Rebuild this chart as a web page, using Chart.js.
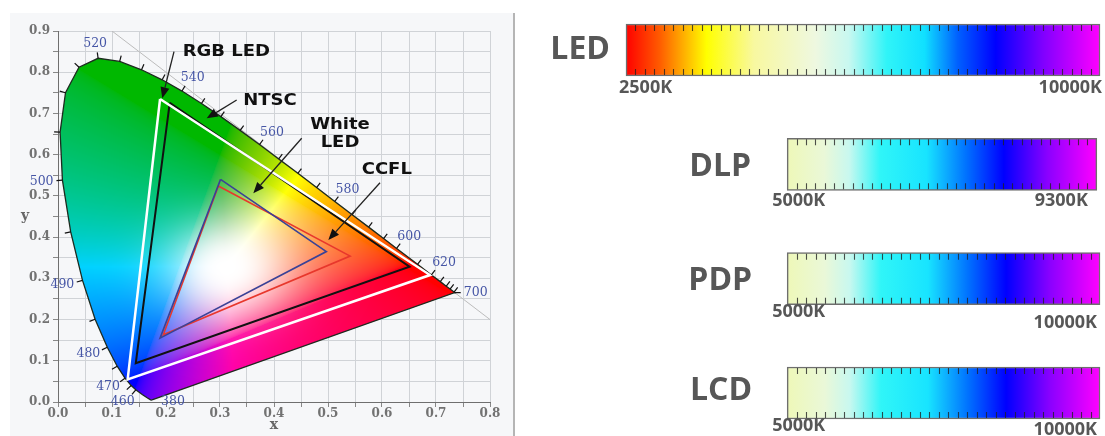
<!DOCTYPE html>
<html>
<head>
<meta charset="utf-8">
<script src="https://cdn.jsdelivr.net/npm/chart.js@4.4.1/dist/chart.umd.min.js"></script>
<style>
  html, body { margin: 0; padding: 0; background: #fff; }
  body { width: 1105px; height: 436px; position: relative; overflow: hidden; }
  #panel { position: absolute; left: 10px; top: 13px; width: 503px; height: 423px; background: #f6f7f9; }
  #divider { position: absolute; left: 513px; top: 13px; width: 1.5px; height: 423px; background: #b5b5b5; }
  #cie { position: absolute; left: 0; top: 0; }
  #temps { position: absolute; left: 515px; top: 0; }
</style>
</head>
<body>
<div id="panel"></div>
<div id="divider"></div>
<canvas id="cie" width="514" height="436"></canvas>
<canvas id="temps" width="590" height="436"></canvas>
<script>
// --- CIE 1931 spectral locus (nm -> x, y)
const wavelengths = [380, 400, 420, 440, 450, 460, 465, 470, 475, 480, 485, 490, 495, 500, 505, 510, 515, 520, 525, 530,
                     535, 540, 545, 550, 555, 560, 565, 570, 575, 580, 585, 590, 595, 600, 610, 620, 630, 640, 650, 680, 700];
const locusX = [0.1741, 0.1733, 0.1714, 0.1644, 0.1566, 0.1440, 0.1355, 0.1241, 0.1096, 0.0913, 0.0687, 0.0454, 0.0235, 0.0082, 0.0039, 0.0139, 0.0389, 0.0743, 0.1142, 0.1547,
                0.1929, 0.2296, 0.2658, 0.3016, 0.3373, 0.3731, 0.4087, 0.4441, 0.4788, 0.5125, 0.5448, 0.5752, 0.6029, 0.6270, 0.6658, 0.6915, 0.7079, 0.7190, 0.7260, 0.7334, 0.7347];
const locusY = [0.0050, 0.0048, 0.0051, 0.0109, 0.0177, 0.0297, 0.0399, 0.0578, 0.0868, 0.1327, 0.2007, 0.2950, 0.4127, 0.5384, 0.6548, 0.7502, 0.8120, 0.8338, 0.8262, 0.8059,
                0.7816, 0.7543, 0.7243, 0.6923, 0.6589, 0.6245, 0.5896, 0.5547, 0.5202, 0.4866, 0.4544, 0.4242, 0.3965, 0.3725, 0.3340, 0.3083, 0.2920, 0.2809, 0.2740, 0.2666, 0.2653];
const labelledNm = [380, 460, 470, 480, 490, 500, 520, 540, 560, 580, 600, 620, 700];

// gamut triangles (G, R, B vertices)
const rgbLedX = [0.189, 0.689, 0.129];
const rgbLedY = [0.735, 0.308, 0.055];
const ntscX = [0.207, 0.651, 0.144];
const ntscY = [0.726, 0.328, 0.094];
const whiteLedX = [0.301, 0.497, 0.189];
const whiteLedY = [0.540, 0.365, 0.155];
const ccflX = [0.297, 0.541, 0.195];
const ccflY = [0.524, 0.354, 0.163];

// x + y = 1 reference line
const diagX = [0.1, 0.8];
const diagY = [0.9, 0.2];

// --- colour temperature ranges
const devices = ['LED', 'DLP', 'PDP', 'LCD'];
const barFrom = [2500, 5050, 5050, 5050];
const barTo = [10000, 9950, 10000, 10000];
const fromLabels = ['2500K', '5000K', '5000K', '5000K'];
const toLabels = ['10000K', '9300K', '10000K', '10000K'];

const closed = (xs, ys) => xs.concat(xs[0]).map((x, i) => ({ x: x, y: ys.concat(ys[0])[i] }));
const locusPoints = closed(locusX, locusY);

// colour of a chromaticity point, roughly like the printed diagram
function chromaColor(x, y) {
    const X = x / y, Z = (1 - x - y) / y;
    let r = Math.max(0, 3.2406 * X - 1.5372 - 0.4986 * Z);
    let g = Math.max(0, -0.9689 * X + 1.8758 + 0.0415 * Z);
    let b = Math.max(0, 0.0557 * X - 0.2040 + 1.0570 * Z);
    const m = Math.max(r, g, b) || 1;
    r /= m; g /= m; b /= m;
    // bluer cyans, pinker magentas
    const g2 = g * (1 - 0.35 * b * (1 - r));
    const b2 = b * (1 - 0.6 * r * (1 - g));
    const k = 0.72 + 0.28 * Math.max(r, b);
    const glow = Math.exp(-(Math.pow((x - 0.315) / 0.11, 2) + Math.pow((y - 0.325) / 0.11, 2)));
    const enc = v => Math.round((255 * Math.pow(v, 1 / 2.2) * k) * (1 - glow) + 255 * glow);
    return [enc(r), enc(g2), enc(b2)];
}

let cieImage = null;
function buildCieImage(chart) {
    const area = chart.chartArea;
    const left = Math.round(area.left), top = Math.round(area.top);
    const w = Math.round(area.right) - left, h = Math.round(area.bottom) - top;
    const c = document.createElement('canvas');
    c.width = chart.width; c.height = chart.height;
    const g = c.getContext('2d');
    const img = g.createImageData(w, h);
    for (let j = 0; j < h; j++) {
        const y = chart.scales.y.getValueForPixel(top + j + 0.5);
        for (let i = 0; i < w; i++) {
            const x = chart.scales.x.getValueForPixel(left + i + 0.5);
            if (y <= 0.002) continue;
            const col = chromaColor(x, y);
            const o = (j * w + i) * 4;
            img.data[o] = col[0]; img.data[o + 1] = col[1]; img.data[o + 2] = col[2]; img.data[o + 3] = 255;
        }
    }
    g.putImageData(img, left, top);
    return c;
}

// fill the horseshoe before its outline is drawn
const locusFill = {
    id: 'locusFill',
    beforeDatasetDraw(chart, args) {
        if (args.index !== 0) return;
        if (!cieImage) cieImage = buildCieImage(chart);
        const pts = args.meta.data;
        const ctx = chart.ctx;
        ctx.save();
        ctx.beginPath();
        pts.forEach((p, i) => i ? ctx.lineTo(p.x, p.y) : ctx.moveTo(p.x, p.y));
        ctx.closePath();
        ctx.clip();
        ctx.drawImage(cieImage, 0, 0);
        ctx.restore();
    }
};

// wavelength ticks, labels, callouts and axis titles
const cieDecor = {
    id: 'cieDecor',
    afterDatasetsDraw(chart, args, opts) {
        const ctx = chart.ctx;
        const pts = chart.getDatasetMeta(0).data.slice(0, wavelengths.length);
        const normal = i => {
            const nm = wavelengths[i];
            if (opts.dirs[nm]) return opts.dirs[nm];
            const a = pts[Math.max(0, i - 1)], b = pts[Math.min(pts.length - 1, i + 1)];
            const tx = b.x - a.x, ty = b.y - a.y;
            const len = Math.hypot(tx, ty) || 1;
            return [ty / len, -tx / len];
        };
        ctx.save();
        // ticks along the locus
        ctx.strokeStyle = '#111';
        ctx.lineWidth = 1.2;
        pts.forEach((p, i) => {
            if (wavelengths[i] < 460) return;
            const n = normal(i);
            ctx.beginPath();
            ctx.moveTo(p.x, p.y);
            ctx.lineTo(p.x + n[0] * 6, p.y + n[1] * 6);
            ctx.stroke();
        });
        ctx.font = '12.5px "DejaVu Serif"';
        ctx.fillStyle = '#4656a6';
        ctx.textAlign = 'center';
        ctx.textBaseline = 'middle';
        pts.forEach((p, i) => {
            const nm = wavelengths[i];
            if (labelledNm.indexOf(nm) < 0) return;
            const n = normal(i);
            const txt = String(nm);
            const w = ctx.measureText(txt).width;
            ctx.fillText(txt, p.x + n[0] * 9 + n[0] * w / 2, p.y + n[1] * 9 + n[1] * 6);
        });

        // callouts
        const xs = chart.scales.x, ys = chart.scales.y;
        opts.callouts.forEach(c => {
            const fx = xs.getPixelForValue(c.from[0]), fy = ys.getPixelForValue(c.from[1]);
            const tx = xs.getPixelForValue(c.to[0]), ty = ys.getPixelForValue(c.to[1]);
            const ang = Math.atan2(ty - fy, tx - fx);
            const hl = 11, hw = 4.5;
            const bx = tx - Math.cos(ang) * hl, by = ty - Math.sin(ang) * hl;
            ctx.strokeStyle = '#222';
            ctx.fillStyle = '#111';
            ctx.lineWidth = 1.3;
            ctx.beginPath();
            ctx.moveTo(fx, fy);
            ctx.lineTo(bx, by);
            ctx.stroke();
            ctx.beginPath();
            ctx.moveTo(tx, ty);
            ctx.lineTo(bx - Math.sin(ang) * hw, by + Math.cos(ang) * hw);
            ctx.lineTo(bx + Math.sin(ang) * hw, by - Math.cos(ang) * hw);
            ctx.closePath();
            ctx.fill();

            const ax = xs.getPixelForValue(c.at[0]), ay = ys.getPixelForValue(c.at[1]);
            ctx.font = 'bold 15px "DejaVu Sans"';
            ctx.textAlign = c.align;
            ctx.textBaseline = 'middle';
            c.text.forEach((line, k) => {
                ctx.save();
                ctx.translate(ax, ay + k * 18);
                ctx.scale(1.2, 1);
                ctx.fillText(line, 0, 0);
                ctx.restore();
            });
        });

        // axis titles
        ctx.fillStyle = '#666';
        ctx.font = 'bold 14px "DejaVu Serif"';
        ctx.textAlign = 'center';
        ctx.fillText('x', (chart.chartArea.left + chart.chartArea.right) / 2, 425);
        ctx.fillText('y', 25, (chart.chartArea.top + chart.chartArea.bottom) / 2);
        ctx.restore();
    }
};

const tickLabel = v => {
    const t = Math.round(v * 100);
    return t % 10 === 0 ? (t / 100).toFixed(1) : '';
};

const axisCommon = {
    type: 'linear',
    grid: { color: '#d0d3d7', lineWidth: 1, tickLength: 5, tickColor: '#888' },
    border: { color: '#6f6f6f', width: 1 },
    ticks: {
        stepSize: 0.05,
        autoSkip: false,
        maxRotation: 0,
        minRotation: 0,
        color: '#727272',
        font: { family: '"DejaVu Serif"', size: 12, weight: 'bold' },
        callback: tickLabel
    }
};

new Chart(document.getElementById('cie'), {
    type: 'scatter',
    data: {
        datasets: [
            { label: 'Spectral locus', data: locusPoints, showLine: true, borderColor: '#1d2b1f', borderWidth: 1.3, pointRadius: 0, order: 8 },
            { label: 'x + y = 1', data: diagX.map((x, i) => ({ x: x, y: diagY[i] })), showLine: true, borderColor: '#bcbcbc', borderWidth: 1, pointRadius: 0, order: 9 },
            { label: 'NTSC', data: closed(ntscX, ntscY), showLine: true, borderColor: '#111111', borderWidth: 2, pointRadius: 0, order: 4 },
            { label: 'RGB LED', data: closed(rgbLedX, rgbLedY), showLine: true, borderColor: '#ffffff', borderWidth: 2.5, pointRadius: 0, order: 3 },
            { label: 'CCFL', data: closed(ccflX, ccflY), showLine: true, borderColor: '#e8372c', borderWidth: 1.6, pointRadius: 0, order: 2 },
            { label: 'White LED', data: closed(whiteLedX, whiteLedY), showLine: true, borderColor: '#3a4296', borderWidth: 1.6, pointRadius: 0, order: 1 }
        ]
    },
    options: {
        responsive: false,
        animation: false,
        layout: { padding: { left: 0, right: 24, top: 31, bottom: 0 } },
        scales: {
            x: Object.assign({}, axisCommon, {
                min: 0, max: 0.8,
                ticks: Object.assign({}, axisCommon.ticks, { padding: 0 }),
                afterFit: s => { s.height = 34; }
            }),
            y: Object.assign({}, axisCommon, {
                min: 0, max: 0.9,
                ticks: Object.assign({}, axisCommon.ticks, { padding: 3 }),
                afterFit: s => { s.width = 58; }
            })
        },
        plugins: {
            legend: { display: false },
            tooltip: { enabled: false },
            cieDecor: {
                dirs: { 700: [1, 0], 380: [1, 0.15] },
                callouts: [
                    { text: ['RGB LED'], at: [0.2309, 0.849], align: 'left', from: [0.2148, 0.8498], to: [0.1931, 0.7367] },
                    { text: ['NTSC'], at: [0.3431, 0.7302], align: 'left', from: [0.3309, 0.7326], to: [0.2754, 0.6882] },
                    { text: ['White', 'LED'], at: [0.5222, 0.672], align: 'center', from: [0.4513, 0.6397], to: [0.3617, 0.5063] },
                    { text: ['CCFL'], at: [0.5624, 0.5628], align: 'left', from: [0.5963, 0.532], to: [0.5006, 0.393] }
                ]
            }
        }
    },
    plugins: [locusFill, cieDecor]
});

// --- colour temperature bars
const ledStops = [[0, '#ff0000'], [0.07, '#ff5a00'], [0.17, '#ffff00'], [0.27, '#f8f8a0'], [0.4, '#eef8e0'], [0.47, '#c8f8f0'],
                  [0.55, '#30f4f8'], [0.63, '#10e0ff'], [0.7, '#0060ff'], [0.78, '#0000ff'], [0.88, '#8000ff'], [1, '#ff00ff']];
const lampStops = [[0, '#eef8b8'], [0.12, '#eaf8d8'], [0.2, '#c8f8ef'], [0.3, '#30f5f8'], [0.45, '#18e4ff'], [0.58, '#0070ff'],
                   [0.7, '#0000ff'], [0.84, '#8a00ff'], [1, '#ff00ff']];

function barGradient(c) {
    const chart = c.chart;
    if (c.type !== 'data' || !chart.chartArea) return '#ccc';
    const i = c.dataIndex;
    const x0 = chart.scales.x.getPixelForValue(barFrom[i]);
    const x1 = chart.scales.x.getPixelForValue(barTo[i]);
    const grad = chart.ctx.createLinearGradient(x0, 0, x1, 0);
    (i === 0 ? ledStops : lampStops).forEach(s => grad.addColorStop(s[0], s[1]));
    return grad;
}

const barDecor = {
    id: 'barDecor',
    afterDatasetsDraw(chart, args, opts) {
        const ctx = chart.ctx;
        const bars = chart.getDatasetMeta(0).data;
        ctx.save();
        bars.forEach((el, i) => {
            const left = Math.min(el.base, el.x), right = Math.max(el.base, el.x);
            const top = el.y - el.height / 2, bottom = el.y + el.height / 2;
            // scale marks
            const n = Math.round((right - left) / 9.5);
            const step = (right - left) / n;
            ctx.strokeStyle = 'rgba(35,35,35,0.8)';
            ctx.lineWidth = 1.1;
            for (let k = 1; k < n; k++) {
                const x = Math.round(left + k * step) + 0.5;
                ctx.beginPath();
                ctx.moveTo(x, top + 1); ctx.lineTo(x, top + 7);
                ctx.moveTo(x, bottom - 7); ctx.lineTo(x, bottom - 1);
                ctx.stroke();
            }
            ctx.fillStyle = '#575757';
            ctx.textBaseline = 'middle';
            ctx.font = 'bold 32px "Open Sans"';
            ctx.textAlign = 'right';
            ctx.fillText(devices[i], left - opts.nameGap[i], el.y + opts.nameDy[i]);
            ctx.font = 'bold 18px "Open Sans"';
            ctx.textAlign = 'left';
            ctx.fillText(fromLabels[i], left + opts.fromDx[i], bottom + opts.fromDy[i]);
            ctx.textAlign = 'right';
            ctx.fillText(toLabels[i], right + opts.toDx[i], bottom + opts.toDy[i]);
        });
        ctx.restore();
    }
};

new Chart(document.getElementById('temps'), {
    type: 'bar',
    data: {
        labels: devices,
        datasets: [{
            label: 'Colour temperature',
            data: devices.map((d, i) => [barFrom[i], barTo[i]]),
            backgroundColor: barGradient,
            borderColor: '#6e6e6e',
            borderWidth: 1.5,
            borderSkipped: false,
            barThickness: 52,
            clip: false
        }]
    },
    options: {
        indexAxis: 'y',
        responsive: false,
        animation: false,
        layout: { padding: { left: 111, right: 5, top: 50, bottom: 43 } },
        scales: {
            x: { type: 'linear', min: 2500, max: 10000, display: false },
            y: { type: 'category', offset: false, display: false }
        },
        plugins: {
            legend: { display: false },
            tooltip: { enabled: false },
            barDecor: {
                nameGap: [16, 36, 35, 35],
                nameDy: [0, 3, 2, -2],
                fromDx: [-7, -15, -15, -15],
                fromDy: [12, 11, 7, 7],
                toDx: [2, -9, -3, -3],
                toDy: [12, 11, 18, 11]
            }
        }
    },
    plugins: [barDecor]
});
</script>
</body>
</html>
